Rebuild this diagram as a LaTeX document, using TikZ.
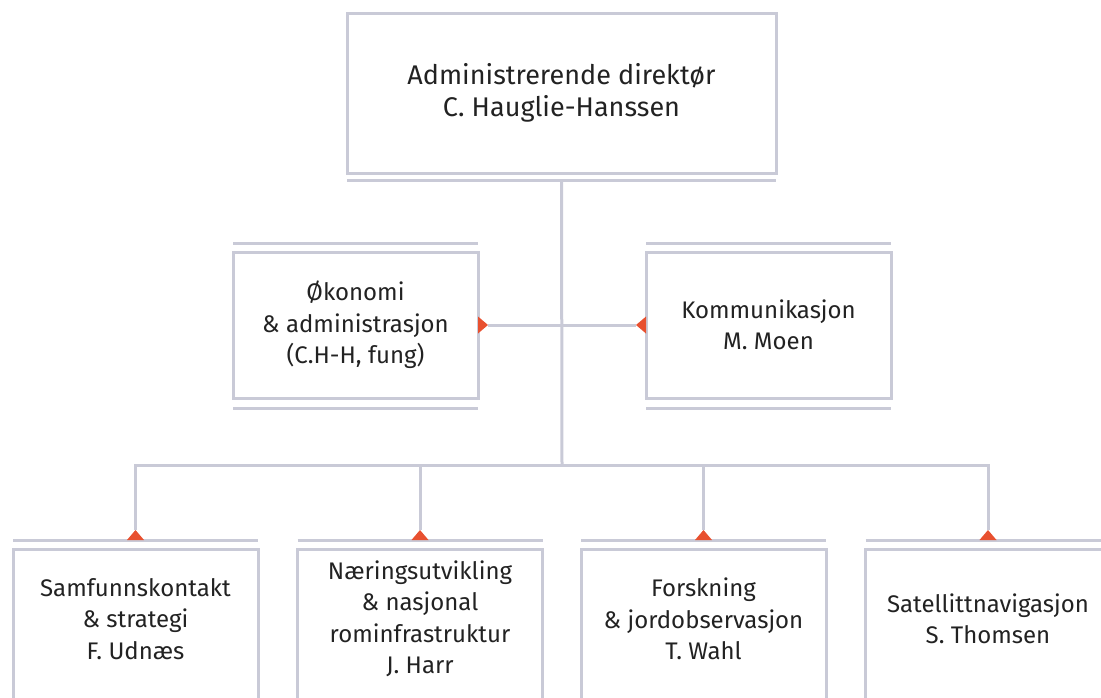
\documentclass[tikz,border=0pt]{standalone}
\usepackage{fontspec}
\setmainfont{Fira Sans}
\usetikzlibrary{arrows.meta,positioning,calc}
\definecolor{rahmen}{RGB}{201,202,215}
\definecolor{spiss}{RGB}{232,80,47}
\definecolor{skrift}{RGB}{34,34,34}
\tikzset{
  boks/.style={draw=rahmen, line width=3pt, text=skrift, align=center,
    font=\fontsize{24}{31.5}\selectfont, inner sep=0pt, outer sep=0pt},
  linje/.style={draw=rahmen, line width=3pt},
  trekant/.tip={Triangle[reversed, length=10pt, width=17pt, color=spiss, line width=0pt]},
}

\begin{document}
\begin{tikzpicture}[x=1pt,y=-1pt]
\useasboundingbox (0,0) rectangle (1101,697);
%Direktør
\node[boks, font=\fontsize{27}{32}\selectfont, minimum width=429pt, minimum height=160pt] (adm) at (561.5,93)
  {Administrerende direktør\\C. Hauglie-Hanssen};
\draw[linje] ([yshift=-7pt]adm.south west) -- ([yshift=-7pt]adm.south east);
\coordinate (adm-bunn) at ([yshift=-7pt]adm.south);
%Stab
\node[boks, minimum width=245pt, minimum height=146pt] (okon) at (355.5,325)
  {Økonomi\\\& administrasjon\\(C.H-H, fung)};
\node[boks, minimum width=245pt, minimum height=146pt] (komm) at (768.5,325)
  {Kommunikasjon\\M. Moen};
\foreach \n in {okon,komm}{
\draw[linje] ([yshift=9pt]\n.north west) -- ([yshift=9pt]\n.north east);
\draw[linje] ([yshift=-10pt]\n.south west) -- ([yshift=-10pt]\n.south east);
}
%Avdelinger (nederst, kuttet av bildekanten)
\foreach \x/\n/\txt in {135.5/samf/{Samfunnskontakt\\\& strategi\\F. Udnæs},
    420/naer/{Næringsutvikling\\\& nasjonal\\rominfrastruktur\\J. Harr},
    703.5/forsk/{Forskning\\\& jordobservasjon\\T. Wahl},
    988/sat/{Satellittnavigasjon\\S. Thomsen}}{
\node[boks, draw=none, minimum width=245pt, minimum height=140pt] (\n) at (\x,619) {\txt};
\draw[linje] ([yshift=-20pt]\n.south west) -- (\n.north west) -- (\n.north east) -- ([yshift=-20pt]\n.south east);
\draw[linje] ([yshift=9pt]\n.north west) -- ([yshift=9pt]\n.north east);
\coordinate (\n-topp) at ([yshift=9pt]\n.north);
}
%Linjer
\coordinate (stamme) at (562,465);
\draw[linje] (adm-bunn) -- (stamme);
\draw[linje, trekant-trekant] (okon.east) -- (komm.west);
\foreach \n in {samf,naer,forsk,sat}
  \draw[linje, -trekant] (stamme) -| (\n-topp);
\end{tikzpicture}
\end{document}
